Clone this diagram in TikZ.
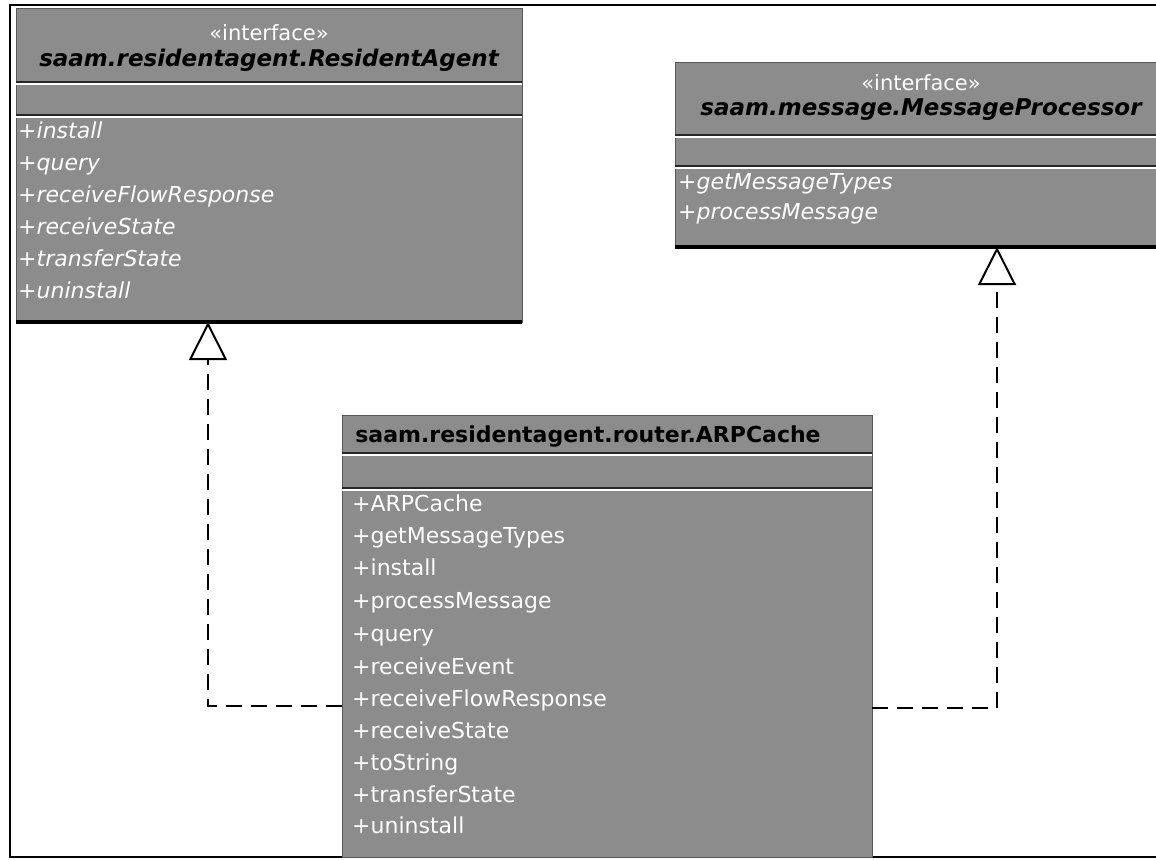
\documentclass[tikz,border=0pt]{standalone}
\usepackage{fontspec}
\setmainfont{DejaVu Sans}
\usetikzlibrary{arrows.meta}
\begin{document}
\begin{tikzpicture}[x=1pt,y=-1pt,
  umlbox/.style={fill=black!45, draw=black!65, line width=0.8pt, inner sep=0pt, outer sep=0pt, anchor=north west},
  member/.style={anchor=west, inner sep=0pt, text=white, font=\fontsize{22}{26}\selectfont, text height=16pt, text depth=5pt},
  imember/.style={member, font=\fontsize{22}{26}\selectfont\itshape},
  stereo/.style={anchor=center, inner sep=0pt, text=white, font=\fontsize{21}{26}\selectfont},
  ititle/.style={anchor=center, inner sep=0pt, text=black, font=\fontsize{23}{26}\selectfont\bfseries\itshape},
  ctitle/.style={anchor=center, inner sep=0pt, text=black, font=\fontsize{22}{26}\selectfont\bfseries},
  divdark/.style={draw=black!85, line width=1.5pt},
  divlight/.style={draw=white, line width=1.5pt},
  boxbottom/.style={draw=black, line width=3.5pt},
  realize/.style={draw=black, line width=2pt, dash pattern=on 16pt off 9pt,
     -{Triangle[open, length=38pt, width=38pt, line width=2pt]}},
  frameline/.style={draw=black, line width=2pt},
]
\useasboundingbox (0,0) rectangle (1156,859);
\clip (0,0) rectangle (1156,859);
\fill[white] (0,0) rectangle (1156,859);
% frame
\draw[frameline] (1170,5) -- (10,5) -- (10,857) -- (1170,857);

% ResidentAgent
\node[umlbox, minimum width=506pt, minimum height=314pt] (ra) at (16,8) {};
\node[stereo] (ra-st) at (269,33) {«interface»};
\node[ititle] (ra-t) at (269,60) {saam.residentagent.ResidentAgent};
\draw[divdark] (16,82) -- (522,82);
\draw[divlight] (16,84) -- (522,84);
\draw[divdark] (16,115) -- (522,115);
\draw[divlight] (16,117) -- (522,117);
\node[imember] (ra-m1) at (18,133) {+install};
\node[imember] (ra-m2) at (18,165) {+query};
\node[imember] (ra-m3) at (18,197) {+receiveFlowResponse};
\node[imember] (ra-m4) at (18,229) {+receiveState};
\node[imember] (ra-m5) at (18,261) {+transferState};
\node[imember] (ra-m6) at (18,293) {+uninstall};
\draw[boxbottom] (ra.south west) -- (ra.south east);

% MessageProcessor
\node[umlbox, minimum width=495pt, minimum height=185pt] (mp) at (675,62) {};
\node[stereo] (mp-st) at (921,83) {«interface»};
\node[ititle] (mp-t) at (921,110) {saam.message.MessageProcessor};
\draw[divdark] (675,135) -- (1170,135);
\draw[divlight] (675,137) -- (1170,137);
\draw[divdark] (675,166) -- (1170,166);
\draw[divlight] (675,168) -- (1170,168);
\node[imember] (mp-m1) at (678,184) {+getMessageTypes};
\node[imember] (mp-m2) at (678,214) {+processMessage};
\draw[boxbottom] (mp.south west) -- (mp.south east);

% ARPCache
\node[umlbox, minimum width=530pt, minimum height=442pt] (arp) at (342,415) {};
\node[ctitle] (arp-t) at (588,437) {saam.residentagent.router.ARPCache};
\draw[divdark] (342,453) -- (872,453);
\draw[divlight] (342,455) -- (872,455);
\draw[divdark] (342,488) -- (872,488);
\draw[divlight] (342,490) -- (872,490);
\node[member] (arp-m1) at (352,506) {+ARPCache};
\node[member] (arp-m2) at (352,538) {+getMessageTypes};
\node[member] (arp-m3) at (352,570) {+install};
\node[member] (arp-m4) at (352,603) {+processMessage};
\node[member] (arp-m5) at (352,636) {+query};
\node[member] (arp-m6) at (352,669) {+receiveEvent};
\node[member] (arp-m7) at (352,701) {+receiveFlowResponse};
\node[member] (arp-m8) at (352,733) {+receiveState};
\node[member] (arp-m9) at (352,765) {+toString};
\node[member] (arp-m10) at (352,797) {+transferState};
\node[member] (arp-m11) at (352,828) {+uninstall};

% connectors (realization)
\coordinate (raA) at (208,322);
\coordinate (mpA) at (997,247);
\coordinate (arpL) at (342,706);
\coordinate (arpR) at (872,708);
\draw[realize] (arp.west |- arpL) -| (raA);
\draw[realize] (arp.east |- arpR) -| (mpA);
\end{tikzpicture}
\end{document}
